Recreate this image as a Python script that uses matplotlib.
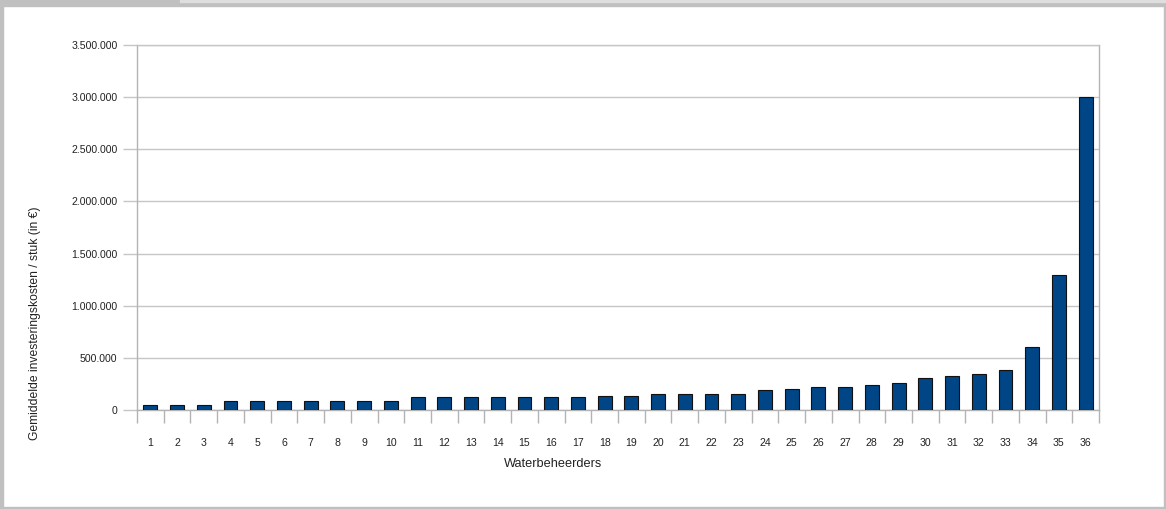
import matplotlib
matplotlib.use("Agg")
import matplotlib.pyplot as plt
from matplotlib.patches import Rectangle
from matplotlib.ticker import FuncFormatter, FixedLocator
import numpy as np

plt.rcParams['font.family'] = ['Liberation Sans', 'DejaVu Sans']

# gemiddelde investeringskosten per waterbeheerder (euro)
beheerders = list(range(1, 37))
kosten = [50000, 50000, 50000,
          85000, 85000, 85000, 85000, 85000, 85000, 85000,
          120000, 120000, 120000, 120000, 120000, 120000, 120000,
          135000, 135000,
          155000, 155000, 155000, 155000,
          190000, 205000, 220000, 220000, 240000, 255000,
          310000, 330000, 345000, 380000,
          605000, 1295000, 3000000]
y_ticks = [0, 500000, 1000000, 1500000, 2000000, 2500000, 3000000, 3500000]

grid_col = '#c6c6c6'
axis_col = '#b3b3b3'
text_col = '#222222'

fig = plt.figure(figsize=(11.66, 5.09), dpi=100)
ax = fig.add_axes([137 / 1166, 1 - 410 / 509, 962 / 1166, 365 / 509])

ax.bar(beheerders, kosten, width=0.52, color='#004586', edgecolor='#111111',
       linewidth=0.8, zorder=3)

ax.set_xlim(0.5, 36.5)
ax.set_ylim(0, 3500000)

# horizontale rasterlijnen
ax.set_yticks(y_ticks)
ax.yaxis.grid(True, color=grid_col, linewidth=1.0, zorder=0)
ax.yaxis.set_major_formatter(FuncFormatter(lambda v, p: f"{int(v):,}".replace(',', '.')))
ax.tick_params(axis='y', length=10, width=1.0, color=grid_col, labelsize=7.6,
               labelcolor=text_col, pad=4)

# categorie-labels in het midden, streepjes op de grenzen
ax.set_xticks(beheerders)
ax.set_xticklabels([str(b) for b in beheerders])
ax.xaxis.set_minor_locator(FixedLocator(np.arange(0.5, 37, 1)))
ax.tick_params(axis='x', which='major', length=0, labelsize=7.6,
               labelcolor=text_col, pad=20)
ax.tick_params(axis='x', which='minor', length=9, width=1.0, color=axis_col)

for side in ['left', 'right', 'bottom']:
    ax.spines[side].set_color(axis_col)
    ax.spines[side].set_linewidth(1.0)
ax.spines['top'].set_color(grid_col)
ax.spines['top'].set_linewidth(1.0)

fig.text(553 / 1166, 1 - 464 / 509, 'Waterbeheerders', ha='center', va='center',
         fontsize=9.2, color=text_col)
fig.text(35 / 1166, 1 - 323 / 509, 'Gemiddelde investeringskosten / stuk (in \u20ac)',
         ha='center', va='center', rotation=90, fontsize=8.7, color=text_col)

# grijze kader rond de grafiek
border = '#c0c0c0'
fig.patches.append(Rectangle((0, 0), 3 / 1166, 1, transform=fig.transFigure,
                             color=border, zorder=5))
fig.patches.append(Rectangle((0, 1 - 6 / 509), 1, 6 / 509, transform=fig.transFigure,
                             color=border, zorder=5))
fig.patches.append(Rectangle((180 / 1166, 1 - 2 / 509), 1, 2 / 509,
                             transform=fig.transFigure, color='#dedede', zorder=6))
fig.patches.append(Rectangle((0, 0), 1, 2 / 509, transform=fig.transFigure,
                             color=border, zorder=5))
fig.patches.append(Rectangle((1 - 2 / 1166, 0), 2 / 1166, 1, transform=fig.transFigure,
                             color=border, zorder=5))

fig.savefig('out.png', dpi=100)
